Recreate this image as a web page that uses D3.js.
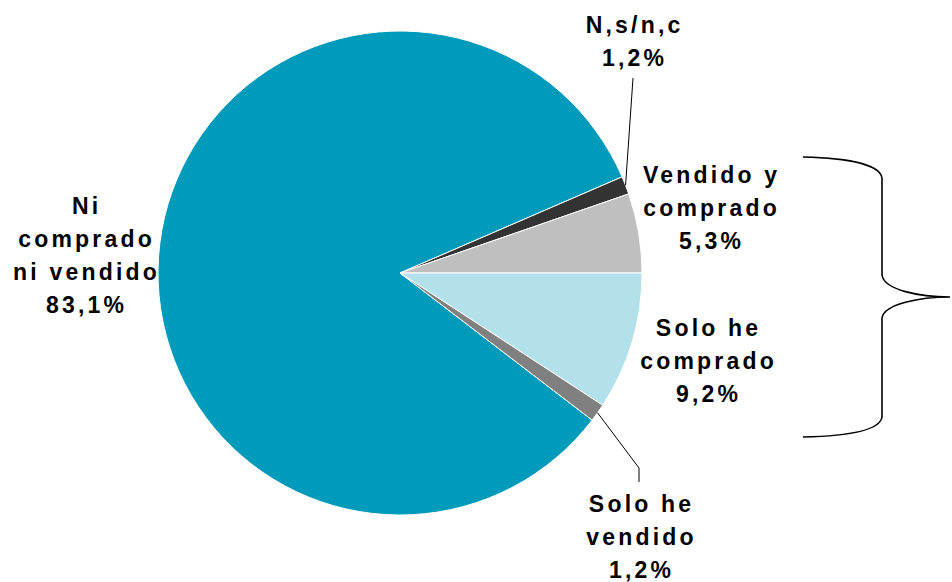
<!DOCTYPE html>
<html>
<head>
<meta charset="utf-8">
<script src="https://cdn.jsdelivr.net/npm/d3@7"></script>
<style>
body { margin: 0; background: #fff; }
text { font-family: "Liberation Sans", Arial, sans-serif; font-weight: bold; fill: #000; }
</style>
</head>
<body>
<script>
// chart values
var categories = ["Ni comprado ni vendido", "N,s/n,c", "Vendido y comprado", "Solo he comprado", "Solo he vendido"];
var values = [83.1, 1.2, 5.3, 9.2, 1.2];
var valueLabels = ["83,1%", "1,2%", "5,3%", "9,2%", "1,2%"];
var labelLines = [["Ni", "comprado", "ni vendido"], ["N,s/n,c"], ["Vendido y", "comprado"], ["Solo he", "comprado"], ["Solo he", "vendido"]];
var colors = ["#009abb", "#333333", "#bfbfbf", "#b3e1eb", "#808080"];

var width = 952, height = 582;
var cx = 400, cy = 273, r = 242;
var lineH = 33;
// label block centres (x) and first baseline (y)
var labelPos = [[85, 214], [633, 33], [710, 183], [707, 336], [640, 512]];

var svg = d3.select('body').append('svg').attr('width', width).attr('height', height);
var g = svg.append('g').attr('transform', 'translate(' + cx + ',' + cy + ')');

// Vendido y comprado ends at 3 o'clock
var before = d3.sum(values.slice(0, 3)) / d3.sum(values) * 2 * Math.PI;
var start = Math.PI / 2 - before;
var pie = d3.pie().sort(null).startAngle(start).endAngle(start + 2 * Math.PI);
var arcs = pie(values);
var arc = d3.arc().innerRadius(0).outerRadius(r);
var edge = d3.arc().innerRadius(r).outerRadius(r);

g.selectAll('path').data(arcs).enter().append('path')
	.attr('d', arc)
	.attr('fill', (d, i) => colors[i])
	.attr('stroke', '#fff').attr('stroke-width', 1);

// leader lines
var p1 = edge.centroid(arcs[1]);
svg.append('path')
	.attr('d', 'M' + (cx + p1[0]) + ',' + (cy + p1[1]) + 'L633,78')
	.attr('stroke', '#000').attr('fill', 'none').attr('stroke-width', 1);
var p4 = edge.centroid(arcs[4]);
svg.append('path')
	.attr('d', 'M' + (cx + p4[0]) + ',' + (cy + p4[1]) + 'L639,468L639,482')
	.attr('stroke', '#000').attr('fill', 'none').attr('stroke-width', 1);

// labels
categories.forEach((c, i) => {
	var lines = labelLines[i].concat([valueLabels[i]]);
	var t = svg.append('text')
		.attr('text-anchor', 'middle')
		.style('font-size', '23px')
		.style('letter-spacing', '3.2px');
	lines.forEach((l, j) => {
		t.append('tspan').attr('x', labelPos[i][0] + 1.6).attr('y', labelPos[i][1] + j * lineH).text(l);
	});
});

// brace
svg.append('path')
	.attr('d', 'M803,157 C850,158 880,165 882,178 L882,275 C884,290 920,297 950,297 C920,297 884,304 882,318 L882,417 C880,430 850,436 803,437')
	.attr('fill', 'none').attr('stroke', '#000').attr('stroke-width', 1.6);
</script>
</body>
</html>
